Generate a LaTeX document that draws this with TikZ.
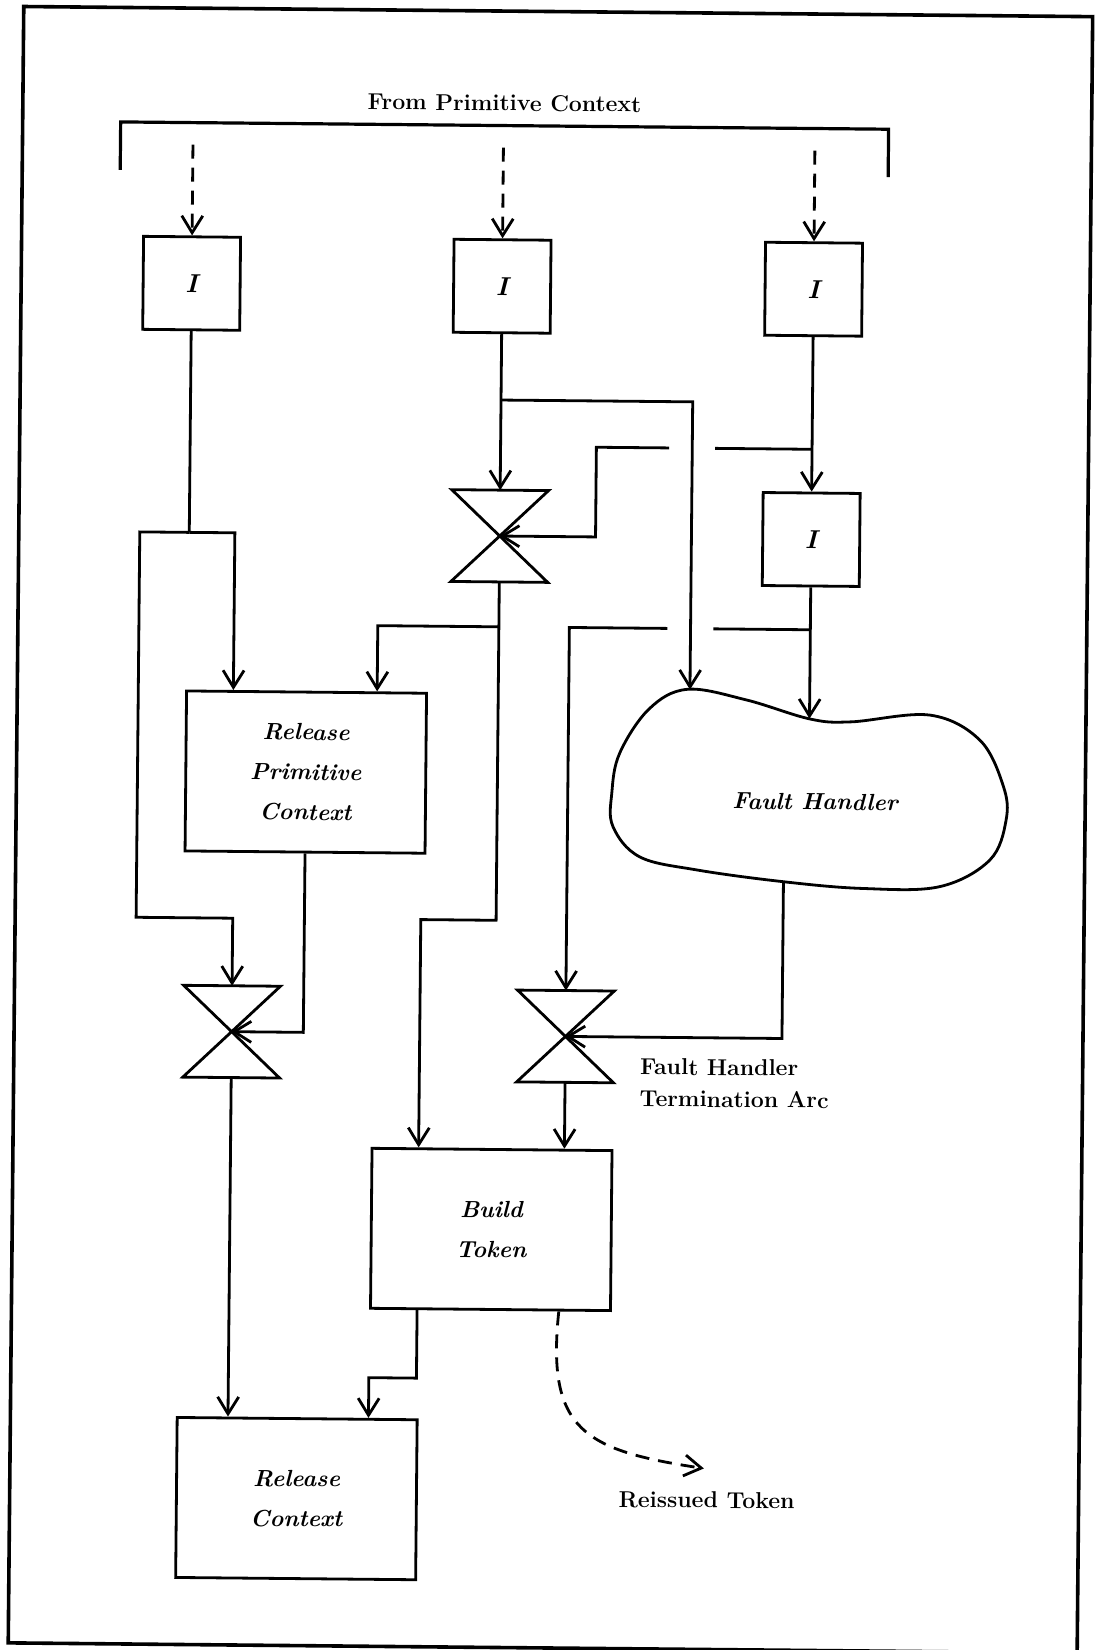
\documentclass[tikz,border=0pt]{standalone}
\usetikzlibrary{arrows.meta,calc}
\begin{document}
\begin{tikzpicture}[x=0.5pt,y=-0.5pt,
  ln/.style={line width=1.4pt},
  arr/.style={ln,-{Straight Barb[length=8.5pt,width=10.5pt]}},
  darr/.style={arr,dash pattern=on 7pt off 4.5pt},
  ibox/.style={draw,ln,minimum width=48.5pt,minimum height=46.5pt,inner sep=0pt,font=\fontsize{13}{15}\selectfont\bfseries\itshape},
  bigbox/.style={draw,ln,minimum width=120pt,minimum height=80pt,inner sep=0pt,align=center,font=\fontsize{11.7}{20}\selectfont\bfseries\itshape},
  bowtie/.style={minimum width=48pt,minimum height=45.5pt,inner sep=0pt},
  lbl/.style={inner sep=0pt,font=\fontsize{11.5}{15.9}\selectfont\bfseries},
  ntext/.style={font=\fontsize{11.7}{20}\selectfont\bfseries\itshape}]
\useasboundingbox (0,0) rectangle (1099,1650);
\begin{scope}[rotate around={-0.544:(550,825)},transform shape]
% frame and bracket
\draw[line width=1.8pt] (16,11.5) rectangle (1085,1648);
\draw[line width=1.6pt] (114,174) -- (114,126) -- (882,126) -- (882,174);
\node[lbl] (title) at (497.6,103.4) {From Primitive Context};

% nodes
\node[ibox] (I1) at (186.5,286.7) {I};
\node[ibox] (I2) at (497,286.7) {I};
\node[ibox] (I3) at (808.5,286.7) {I};
\node[ibox] (I4) at (808.5,537) {I};

\node[bowtie] (bt1) at (497,536.5) {};
\node[bowtie] (bt2) at (233.6,1034.7) {};
\node[bowtie] (bt3) at (567.5,1036.3) {};
\foreach \b in {bt1,bt2,bt3}
  \draw[ln,line join=miter] (\b.north west) -- (\b.north east) -- (\b.south west) -- (\b.south east) -- cycle;

\node[bigbox] (RPC) at (305.3,774.4) {Release\\Primitive\\Context};
\node[bigbox] (BT) at (495.1,1230) {Build\\Token};
\node[bigbox] (RC) at (302.8,1501) {Release\\Context};

% fault handler blob
\node[ntext] (fh) at (814.8,799.2) {Fault Handler};
\draw[ln] plot[smooth cycle,tension=0.6] coordinates {
  (648,708) (686,688) (745,698) (809,716.5) (850,719) (929,711.5)
  (979,736) (1003,782) (1006,816) (990,856) (940,883) (864,885.5)
  (784,879.5) (697,868.5) (640,856) (613,826) (611.5,792.5) (619,752.5)};
\coordinate (fhA) at (688.7,688.3);
\coordinate (fhB) at (808.5,716.2);
\coordinate (fhC) at (784,879.5);

% labels
\node[lbl,anchor=west,align=left] (fhta) at (642,1081.7) {Fault Handler\\Termination Arc};
\node[lbl] (reiss) at (713,1498.5) {Reissued Token};

% dashed inputs
\coordinate (d1) at (186.5,148);
\coordinate (d2) at (497,148);
\coordinate (d3) at (808.5,148);
\draw[darr] (d1) -- (I1.north);
\draw[darr] (d2) -- (I2.north);
\draw[darr] (d3) -- (I3.north);

% left column
\coordinate (j1) at (186.5,535.8);
\draw[ln] (I1.south) -- (j1);
\draw[arr] (j1) -| ($(RPC.north west)+(48.2,0)$);
\draw[arr] (j1) -| (137,921.2) -| (bt2.north);

% middle column
\coordinate (j2) at (497,400.5);
\draw[arr] (I2.south) -- (bt1.north);
\draw[arr] (j2) -| (fhA);

% right column
\coordinate (j3) at (808.5,446.8);
\coordinate (g1r) at (711.5,446.8);
\coordinate (g1l) at (665.5,446.8);
\draw[arr] (I3.south) -- (I4.north);
\draw[ln] (j3) -- (g1r);
\draw[arr] (g1l) -- (592.8,446.8) |- (bt1.center);

\coordinate (j4) at (808.5,627.3);
\coordinate (g2r) at (711.5,627.3);
\coordinate (g2l) at (665.5,627.3);
\draw[arr] (I4.south) -- (fhB);
\draw[ln] (j4) -- (g2r);
\draw[arr] (g2l) -| (bt3.north);

% from bowtie 1
\coordinate (j5) at (497,627.3);
\draw[arr] (bt1.south) -- (497,920.8) -| ($(BT.north west)+(48,0)$);
\draw[arr] (j5) -| ($(RPC.north west)+(192,0)$);

% lower connections
\draw[arr] (RPC.south) |- (bt2.center);
\draw[arr] (bt2.south) -- (bt2.south |- RC.north);
\draw[arr] (fhC) |- (bt3.center);
\draw[arr] (bt3.south) -- (bt3.south |- BT.north);
\draw[arr] ($(BT.south west)+(48,0)$) -- ++(0,68) -| ($(RC.north west)+(192.7,0)$);

% reissued token
\coordinate (rt) at (710,1467);
\draw[darr] ($(BT.south west)+(189.7,0)$) .. controls (552,1430) and (590,1450) .. (rt);
\end{scope}
\end{tikzpicture}
\end{document}
